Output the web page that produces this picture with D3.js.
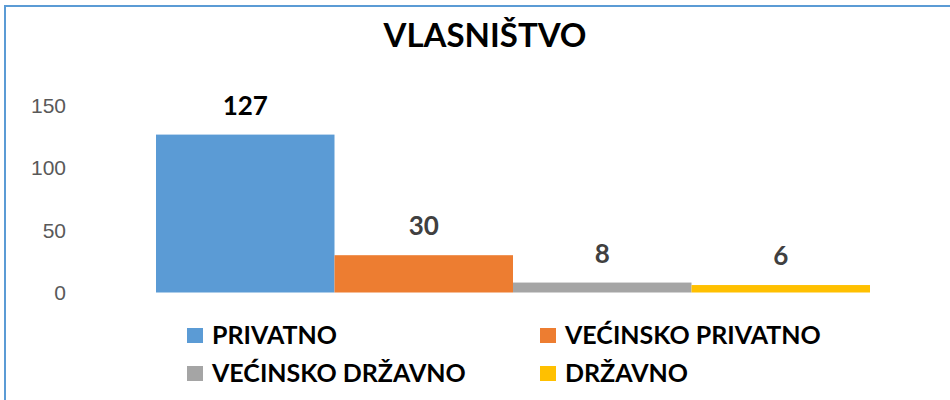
<!DOCTYPE html>
<meta charset="utf-8">
<style>
body { margin: 0; background: #fff; }
svg { display: block; font-family: Lato, "Open Sans", sans-serif; }
.axis text { fill: #595959; font-size: 21px; }
.axis path, .axis line { display: none; }
</style>
<body>
<script src="https://d3js.org/d3.v7.min.js"></script>
<script>

var width = 950;
var height = 400;

// chart data
var title = 'VLASNIŠTVO';
var categories = ['PRIVATNO', 'VEĆINSKO PRIVATNO', 'VEĆINSKO DRŽAVNO', 'DRŽAVNO'];
var values = [127, 30, 8, 6];
var colors = ['#5B9BD5', '#ED7D31', '#A5A5A5', '#FFC000'];
var labelColors = ['#000', '#404040', '#404040', '#404040'];
var yTicks = [0, 50, 100, 150];

var svg = d3.select('body')
  .append('svg')
  .attr('width', width)
  .attr('height', height);

// outer frame (only left and top edges are visible)
svg.append('rect')
  .attr('x', 5)
  .attr('y', 6)
  .attr('width', 980)
  .attr('height', 420)
  .attr('fill', 'none')
  .attr('stroke', '#5B9BD5')
  .attr('stroke-width', 2);

svg.append('text')
  .attr('x', 485)
  .attr('y', 47)
  .attr('text-anchor', 'middle')
  .attr('font-size', 33)
  .attr('font-weight', 'bold')
  .attr('fill', '#000')
  .text(title);

var x = d3.scaleBand()
  .domain(categories)
  .range([156, 870])
  .padding(0);

var y = d3.scaleLinear()
  .domain([0, 150])
  .range([292.5, 106]);

svg.append('g')
  .attr('class', 'axis')
  .attr('transform', 'translate(66,0)')
  .call(d3.axisLeft(y).tickValues(yTicks).tickSize(0).tickPadding(0));

svg.selectAll('.bar')
  .data(values)
  .enter()
  .append('rect')
  .attr('class', 'bar')
  .attr('x', (d, i) => x(categories[i]))
  .attr('y', d => y(d))
  .attr('width', x.bandwidth())
  .attr('height', d => y(0) - y(d))
  .attr('fill', (d, i) => colors[i]);

svg.selectAll('.val')
  .data(values)
  .enter()
  .append('text')
  .attr('class', 'val')
  .attr('x', (d, i) => x(categories[i]) + x.bandwidth() / 2)
  .attr('y', d => y(d) - 20)
  .attr('text-anchor', 'middle')
  .attr('font-size', 26)
  .attr('font-weight', 'bold')
  .attr('fill', (d, i) => labelColors[i])
  .text(d => d);

// legend, 2 columns
var legend = svg.selectAll('.legend')
  .data(categories)
  .enter()
  .append('g')
  .attr('class', 'legend')
  .attr('transform', (d, i) => 'translate(' + (i % 2 ? 540 : 187) + ',' + (i < 2 ? 328 : 366) + ')');

legend.append('rect')
  .attr('width', 16)
  .attr('height', 15)
  .attr('fill', (d, i) => colors[i]);

legend.append('text')
  .attr('x', 25)
  .attr('y', 16)
  .attr('font-size', 25)
  .attr('font-weight', 'bold')
  .attr('fill', '#000')
  .text(d => d);

</script>
</body>
</html>
